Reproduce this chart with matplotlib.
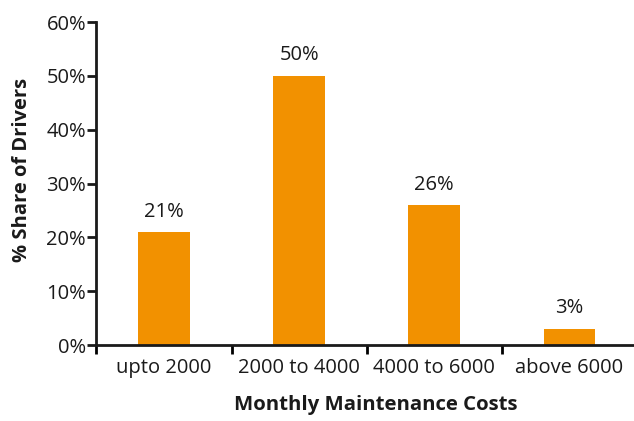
import matplotlib.pyplot as plt
from matplotlib.ticker import FixedLocator, NullFormatter

# data
categories = ['upto 2000', '2000 to 4000', '4000 to 6000', 'above 6000']
shares = [21, 50, 26, 3]  # %
yticks = [0, 10, 20, 30, 40, 50, 60]

plt.rcParams['font.family'] = ['Open Sans', 'DejaVu Sans']

fig = plt.figure(figsize=(6.34, 4.21), dpi=100)
ax = fig.add_axes([0.1522, 0.1805, 0.8478, 0.7672])

x = list(range(len(categories)))
ax.bar(x, shares, width=0.38, color='#F29100')

for xi, v in zip(x, shares):
    ax.annotate(f'{v}%', (xi, v), xytext=(0, 7.5), textcoords='offset points',
                ha='center', va='bottom', fontsize=14.5, color='#1a1a1a')

ax.set_xlim(-0.5, 3.48)
ax.set_ylim(0, 60)
ax.set_yticks(yticks)
ax.set_yticklabels([f'{t}%' for t in yticks])

# category labels centred, ticks at the boundaries
ax.set_xticks(x)
ax.set_xticklabels(categories)
ax.tick_params(axis='x', which='major', length=0, pad=9)
ax.xaxis.set_minor_locator(FixedLocator([-0.5, 0.5, 1.5, 2.5]))
ax.xaxis.set_minor_formatter(NullFormatter())
ax.tick_params(axis='x', which='minor', length=6.5, width=2, direction='out')
ax.tick_params(axis='y', length=6.5, width=2, direction='out', pad=1)
ax.tick_params(labelsize=14.5, colors='#1a1a1a')

for s in ['top', 'right']:
    ax.spines[s].set_visible(False)
for s in ['left', 'bottom']:
    ax.spines[s].set_linewidth(2)
    ax.spines[s].set_color('#1a1a1a')

ax.set_xlabel('Monthly Maintenance Costs', fontsize=14.7, fontweight='bold',
              color='#1a1a1a')
ax.set_ylabel('% Share of Drivers', fontsize=14.5, fontweight='bold',
              color='#1a1a1a')
ax.xaxis.set_label_coords(0.519, -0.155)
ax.yaxis.set_label_coords(-0.12, 0.542)

fig.savefig('out.png', dpi=100)
